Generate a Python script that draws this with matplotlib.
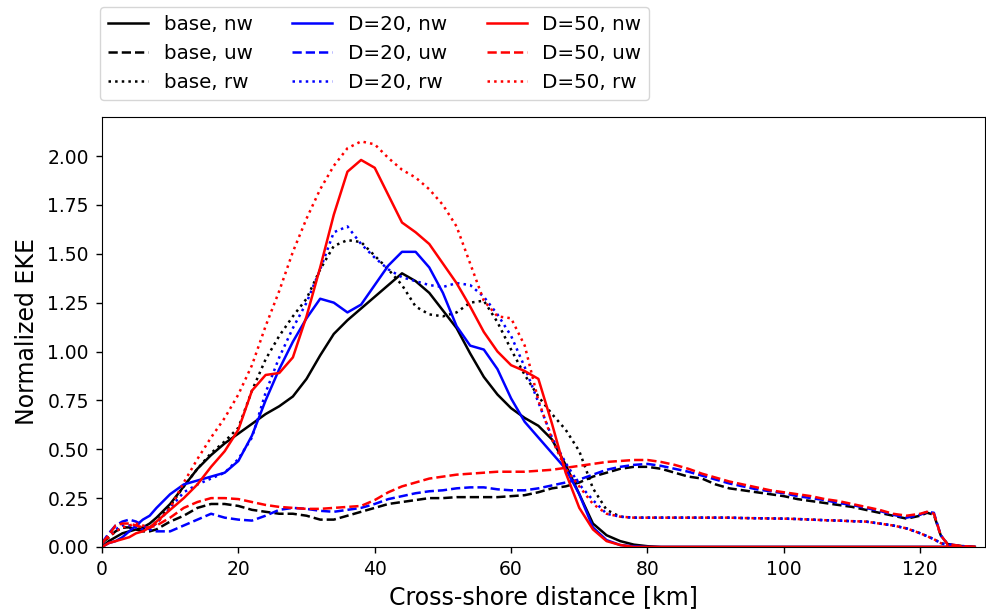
import matplotlib
matplotlib.use("Agg")
import matplotlib.pyplot as plt

# cross-shore distance [km]
dist = ([0, 1, 2, 3, 4, 5, 6, 7, 8] + list(range(10, 121, 2))
        + [121, 122, 123, 124, 126, 128])

labels = ["base, nw", "base, uw", "base, rw",
          "D=20, nw", "D=20, uw", "D=20, rw",
          "D=50, nw", "D=50, uw", "D=50, rw"]

# --- base ---
base_nw = [0.0, 0.03, 0.05, 0.07, 0.08, 0.09, 0.10, 0.12, 0.15,
           0.22, 0.31, 0.40, 0.47, 0.53, 0.58, 0.63, 0.68, 0.72, 0.77,
           0.86, 0.98, 1.09, 1.16, 1.22, 1.28, 1.34, 1.40, 1.36, 1.30,
           1.21, 1.12, 0.99, 0.87, 0.78, 0.71, 0.66, 0.62, 0.55, 0.42,
           0.27, 0.12, 0.06, 0.03, 0.012, 0.004, 0.0, 0.0, 0.0, 0.0,
           0.0, 0.0, 0.0, 0.0, 0.0, 0.0, 0.0, 0.0, 0.0, 0.0, 0.0, 0.0,
           0.0, 0.0, 0.0, 0.0, 0.0, 0.0, 0.0, 0.0, 0.0, 0.0]
base_uw = [0.02, 0.05, 0.08, 0.10, 0.10, 0.09, 0.08, 0.08, 0.09,
           0.13, 0.16, 0.20, 0.22, 0.22, 0.21, 0.19, 0.18, 0.17, 0.17,
           0.16, 0.14, 0.14, 0.16, 0.18, 0.20, 0.22, 0.23, 0.24, 0.25,
           0.25, 0.255, 0.255, 0.255, 0.255, 0.26, 0.265, 0.28, 0.30, 0.31,
           0.33, 0.36, 0.38, 0.40, 0.41, 0.41, 0.40, 0.38, 0.36, 0.35,
           0.32, 0.30, 0.29, 0.28, 0.27, 0.26, 0.245, 0.235, 0.225, 0.215,
           0.205, 0.19, 0.175, 0.16, 0.145, 0.16,
           0.175, 0.165, 0.06, 0.015, 0.005, 0.0]
base_rw = [0.02, 0.05, 0.08, 0.10, 0.10, 0.09, 0.09, 0.10, 0.13,
           0.21, 0.31, 0.40, 0.48, 0.54, 0.61, 0.80, 0.96, 1.08, 1.18,
           1.27, 1.42, 1.54, 1.57, 1.56, 1.49, 1.42, 1.34, 1.23, 1.19,
           1.18, 1.20, 1.25, 1.26, 1.15, 1.01, 0.88, 0.77, 0.68, 0.60,
           0.49, 0.30, 0.19, 0.155, 0.15, 0.15, 0.15, 0.15, 0.15, 0.15,
           0.15, 0.15, 0.148, 0.147, 0.146, 0.145, 0.143, 0.14, 0.137, 0.135,
           0.132, 0.13, 0.12, 0.11, 0.095, 0.07,
           0.055, 0.04, 0.02, 0.01, 0.003, 0.0]

# --- D=20 ---
d20_nw = [0.0, 0.02, 0.03, 0.05, 0.08, 0.11, 0.14, 0.16, 0.20,
          0.27, 0.32, 0.34, 0.36, 0.38, 0.44, 0.57, 0.75, 0.91, 1.05,
          1.17, 1.27, 1.25, 1.20, 1.24, 1.34, 1.44, 1.51, 1.51, 1.43,
          1.30, 1.13, 1.03, 1.01, 0.91, 0.76, 0.64, 0.56, 0.48, 0.40,
          0.27, 0.10, 0.035, 0.01, 0.003, 0.0, 0.0, 0.0, 0.0, 0.0,
          0.0, 0.0, 0.0, 0.0, 0.0, 0.0, 0.0, 0.0, 0.0, 0.0, 0.0, 0.0,
          0.0, 0.0, 0.0, 0.0, 0.0, 0.0, 0.0, 0.0, 0.0, 0.0]
d20_uw = [0.02, 0.07, 0.11, 0.13, 0.14, 0.13, 0.11, 0.09, 0.08,
          0.08, 0.11, 0.14, 0.17, 0.15, 0.14, 0.135, 0.16, 0.19, 0.20,
          0.195, 0.185, 0.18, 0.19, 0.20, 0.22, 0.245, 0.26, 0.275, 0.285,
          0.29, 0.30, 0.305, 0.305, 0.295, 0.29, 0.29, 0.30, 0.315, 0.33,
          0.345, 0.37, 0.395, 0.41, 0.42, 0.425, 0.415, 0.40, 0.385, 0.365,
          0.345, 0.325, 0.31, 0.295, 0.285, 0.275, 0.26, 0.25, 0.24, 0.225,
          0.215, 0.20, 0.185, 0.165, 0.15, 0.165,
          0.18, 0.175, 0.06, 0.015, 0.005, 0.0]
d20_rw = [0.02, 0.06, 0.09, 0.11, 0.11, 0.10, 0.09, 0.10, 0.12,
          0.20, 0.28, 0.32, 0.35, 0.38, 0.45, 0.56, 0.79, 0.97, 1.12,
          1.25, 1.42, 1.61, 1.64, 1.55, 1.48, 1.42, 1.38, 1.36, 1.34,
          1.33, 1.35, 1.34, 1.28, 1.19, 1.08, 0.92, 0.74, 0.56, 0.43,
          0.32, 0.24, 0.17, 0.155, 0.15, 0.15, 0.15, 0.15, 0.15, 0.15,
          0.15, 0.15, 0.148, 0.147, 0.146, 0.145, 0.143, 0.14, 0.137, 0.135,
          0.132, 0.13, 0.12, 0.11, 0.095, 0.07,
          0.055, 0.04, 0.02, 0.01, 0.003, 0.0]

# --- D=50 ---
d50_nw = [0.0, 0.02, 0.03, 0.04, 0.05, 0.07, 0.08, 0.10, 0.13,
          0.19, 0.25, 0.32, 0.41, 0.49, 0.60, 0.80, 0.88, 0.89, 0.97,
          1.18, 1.43, 1.70, 1.92, 1.98, 1.94, 1.80, 1.66, 1.61, 1.55,
          1.45, 1.35, 1.23, 1.10, 1.00, 0.93, 0.90, 0.86, 0.63, 0.38,
          0.20, 0.09, 0.03, 0.01, 0.0, 0.0, 0.0, 0.0, 0.0, 0.0,
          0.0, 0.0, 0.0, 0.0, 0.0, 0.0, 0.0, 0.0, 0.0, 0.0, 0.0, 0.0,
          0.0, 0.0, 0.0, 0.0, 0.0, 0.0, 0.0, 0.0, 0.0, 0.0]
d50_uw = [0.02, 0.06, 0.11, 0.12, 0.12, 0.11, 0.10, 0.10, 0.11,
          0.15, 0.20, 0.23, 0.25, 0.25, 0.245, 0.23, 0.215, 0.205, 0.20,
          0.195, 0.195, 0.20, 0.205, 0.21, 0.24, 0.28, 0.31, 0.33, 0.35,
          0.36, 0.37, 0.375, 0.38, 0.385, 0.385, 0.385, 0.39, 0.395, 0.405,
          0.415, 0.425, 0.435, 0.44, 0.445, 0.445, 0.435, 0.42, 0.40, 0.375,
          0.355, 0.335, 0.32, 0.305, 0.29, 0.28, 0.27, 0.26, 0.245, 0.235,
          0.22, 0.205, 0.19, 0.17, 0.16, 0.17,
          0.18, 0.17, 0.06, 0.015, 0.005, 0.0]
d50_rw = [0.02, 0.05, 0.08, 0.10, 0.11, 0.12, 0.11, 0.10, 0.12,
          0.20, 0.33, 0.45, 0.56, 0.66, 0.78, 0.93, 1.13, 1.31, 1.51,
          1.68, 1.83, 1.95, 2.04, 2.075, 2.06, 1.99, 1.93, 1.89, 1.83,
          1.75, 1.64, 1.45, 1.26, 1.18, 1.17, 1.03, 0.75, 0.55, 0.40,
          0.31, 0.22, 0.17, 0.155, 0.15, 0.15, 0.15, 0.15, 0.15, 0.15,
          0.15, 0.15, 0.148, 0.147, 0.146, 0.145, 0.143, 0.14, 0.137, 0.135,
          0.132, 0.13, 0.12, 0.11, 0.095, 0.07,
          0.055, 0.04, 0.02, 0.01, 0.003, 0.0]

series = [base_nw, base_uw, base_rw, d20_nw, d20_uw, d20_rw,
          d50_nw, d50_uw, d50_rw]
colors = ["k", "k", "k", "b", "b", "b", "r", "r", "r"]
styles = ["-", "--", ":"] * 3

plt.rcParams["font.size"] = 13

fig = plt.figure(figsize=(9.87, 6.13), dpi=100)
ax = fig.add_axes([0.1033, 0.1077, 0.8947, 0.7015])

for y, c, ls, lab in zip(series, colors, styles, labels):
    ax.plot(dist, y, color=c, linestyle=ls, linewidth=1.8, label=lab)

ax.set_xlim(0, 129.5)
ax.set_ylim(0, 2.2)
ax.set_yticks([0, 0.25, 0.5, 0.75, 1.0, 1.25, 1.5, 1.75, 2.0])
ax.yaxis.set_major_formatter(matplotlib.ticker.FormatStrFormatter("%.2f"))
ax.tick_params(length=4.5, width=1, pad=5, labelsize=13.5)
ax.set_xlabel("Cross-shore distance [km]", fontsize=17)
ax.set_ylabel("Normalized EKE", fontsize=17, labelpad=6)

ax.legend(ncol=3, loc="lower left", bbox_to_anchor=(-0.002, 1.04),
          borderaxespad=0, fontsize=14.3)

fig.savefig("out.png", dpi=100)
